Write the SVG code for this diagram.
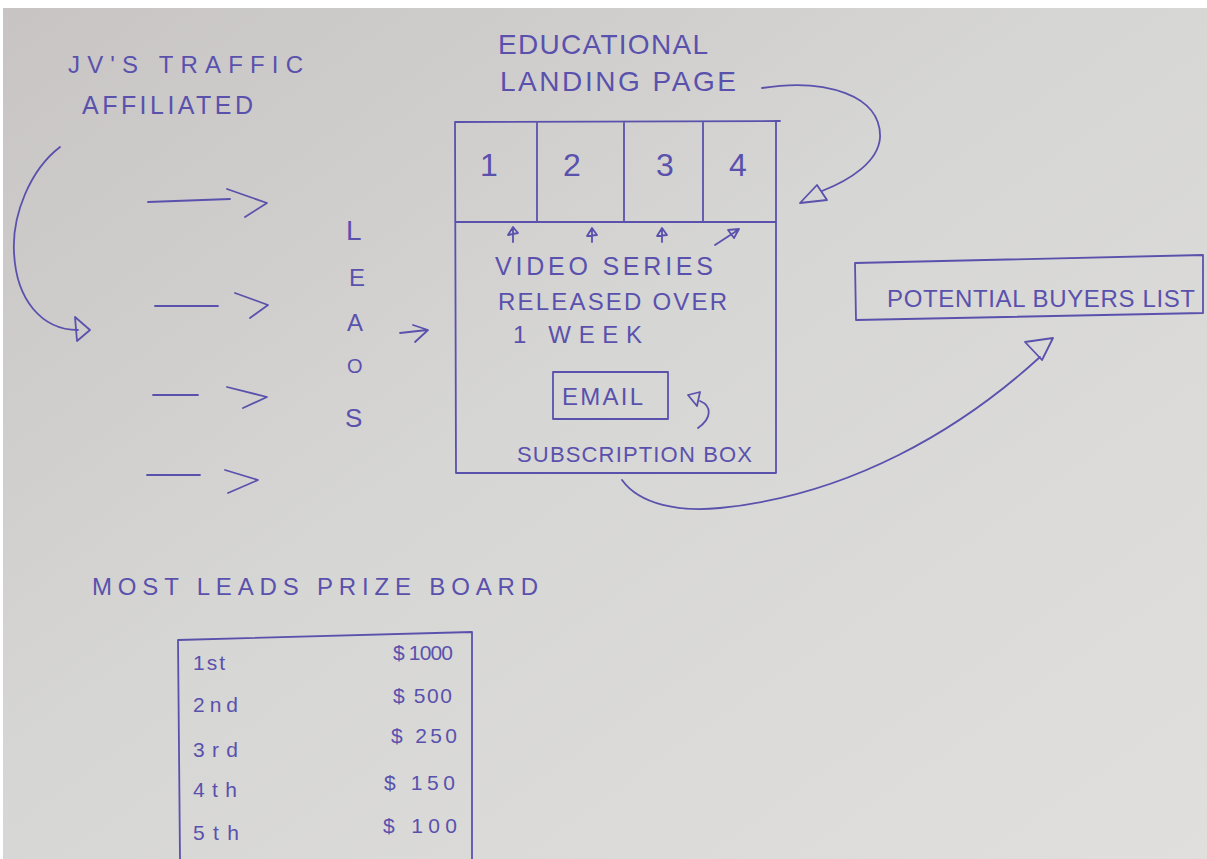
<svg xmlns="http://www.w3.org/2000/svg" width="1207" height="859" viewBox="0 0 1207 859">
<defs>
<linearGradient id="bg" x1="0" y1="0" x2="1" y2="1">
<stop offset="0" stop-color="#c8c4c4"/>
<stop offset="0.45" stop-color="#d6d6d4"/>
<stop offset="1" stop-color="#e0dfdd"/>
</linearGradient>
<style>
.ink{fill:none;stroke:#5a51ad;stroke-width:1.8;stroke-linecap:round;stroke-linejoin:round}
.t{font-family:"Liberation Sans",Arial,sans-serif;fill:#5a51ad;font-weight:normal}
.s{font-family:"Liberation Sans",Arial,sans-serif;fill:#5a51ad;font-size:21px}
</style>
</defs>
<rect x="0" y="0" width="1207" height="859" fill="#ffffff"/>
<rect x="3" y="8" width="1204" height="851" fill="url(#bg)"/>

<g id="traffic-label">
<text class="t" x="68" y="73" font-size="24" textLength="235" lengthAdjust="spacing">JV'S TRAFFIC</text>
<text class="t" x="82" y="114" font-size="25" textLength="171" lengthAdjust="spacing">AFFILIATED</text>
</g>

<g id="leads">
<text class="t" x="346" y="240" font-size="28">L</text>
<text class="t" x="349" y="286" font-size="24">E</text>
<text class="t" x="347" y="331" font-size="24">A</text>
<text class="t" x="347" y="373" font-size="20">O</text>
<text class="t" x="345" y="427" font-size="26">S</text>
</g>

<g id="landing-page">
<text class="t" x="498" y="54" font-size="28" textLength="210" lengthAdjust="spacing">EDUCATIONAL</text>
<text class="t" x="500" y="91" font-size="28" textLength="236" lengthAdjust="spacing">LANDING PAGE</text>
<path class="ink" d="M455,122 L780,121 M455,122 L456,473 L776,473 L776,121 M455,222 L776,222 M537,122 L537,222 M624,122 L624,222 M703,122 L703,222"/>
<text class="t" x="489" y="176" font-size="32" text-anchor="middle">1</text>
<text class="t" x="572" y="176" font-size="32" text-anchor="middle">2</text>
<text class="t" x="665" y="176" font-size="32" text-anchor="middle">3</text>
<text class="t" x="738" y="176" font-size="32" text-anchor="middle">4</text>
<text class="t" x="495" y="275" font-size="25" textLength="218" lengthAdjust="spacing">VIDEO SERIES</text>
<text class="t" x="498" y="310" font-size="24" textLength="229" lengthAdjust="spacing">RELEASED OVER</text>
<text class="t" x="513" y="343" font-size="24" textLength="129" lengthAdjust="spacing">1 WEEK</text>
<rect class="ink" x="553" y="372" width="115" height="47"/>
<text class="t" x="562" y="405" font-size="24" textLength="81" lengthAdjust="spacing">EMAIL</text>
<text class="t" x="517" y="462" font-size="22" textLength="235" lengthAdjust="spacing">SUBSCRIPTION BOX</text>
</g>

<g id="buyers-list">
<path class="ink" d="M855,263 L1203,255 L1203,313 L856,320 Z"/>
<text class="t" x="887" y="307" font-size="24" textLength="308" lengthAdjust="spacing">POTENTIAL BUYERS LIST</text>
</g>

<g id="prize-board">
<text class="t" x="92" y="595" font-size="24" textLength="446" lengthAdjust="spacing">MOST LEADS PRIZE BOARD</text>
<path class="ink" d="M472,859 L472,632 L178,640 L180,859"/>
<text class="s" x="193" y="670" textLength="32" lengthAdjust="spacing">1st</text>
<text class="s" x="393" y="660" textLength="60" lengthAdjust="spacing">$ 1000</text>
<text class="s" x="193" y="712" textLength="45" lengthAdjust="spacing">2nd</text>
<text class="s" x="393" y="703" textLength="59" lengthAdjust="spacing">$ 500</text>
<text class="s" x="193" y="757" textLength="45" lengthAdjust="spacing">3rd</text>
<text class="s" x="391" y="743" textLength="66" lengthAdjust="spacing">$ 250</text>
<text class="s" x="193" y="797" textLength="44" lengthAdjust="spacing">4th</text>
<text class="s" x="384" y="790" textLength="71" lengthAdjust="spacing">$ 150</text>
<text class="s" x="193" y="840" textLength="46" lengthAdjust="spacing">5th</text>
<text class="s" x="383" y="833" textLength="74" lengthAdjust="spacing">$ 100</text>
</g>

<g id="connectors">
<path class="ink" d="M60,147 C30,170 12,215 14,252 C16,300 42,330 78,330"/>
<path class="ink" d="M75,317 L90,330 L77,341 Z"/>
<path class="ink" d="M148,202 L230,199 M227,189 L267,203 L245,217"/>
<path class="ink" d="M155,306 L218,306 M235,293 L268,305 L250,318"/>
<path class="ink" d="M153,395 L198,395 M227,387 L267,397 L243,408"/>
<path class="ink" d="M147,475 L200,475 M225,470 L258,480 L228,493"/>
<path class="ink" d="M400,333 L427,330 M413,325 L428,330 L415,342"/>
<path class="ink" d="M762,88 C825,78 882,95 880,138 C878,162 850,180 822,191"/>
<path class="ink" d="M800,203 L827,200 L817,185 Z"/>
<path class="ink" d="M513,242 L513,228 M508,235 L513,227 L518,233 Z"/>
<path class="ink" d="M592,242 L592,229 M587,236 L592,228 L597,235 Z"/>
<path class="ink" d="M662,242 L662,229 M657,236 L662,228 L667,235 Z"/>
<path class="ink" d="M715,245 L738,230 M728,230 L739,229 L734,238 Z"/>
<path class="ink" d="M698,428 C712,418 712,406 700,401"/>
<path class="ink" d="M688,395 L700,392 L697,406 Z"/>
<path class="ink" d="M622,480 C640,505 680,512 720,508 C850,495 960,430 1040,357"/>
<path class="ink" d="M1025,342 L1053,338 L1042,360 Z"/>
</g>
</svg>
